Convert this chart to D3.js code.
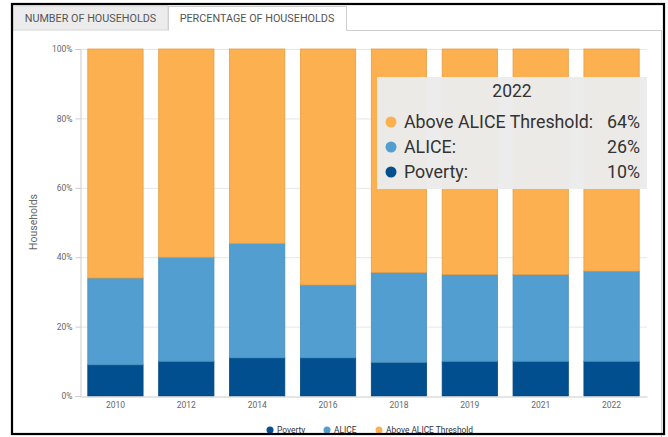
<!DOCTYPE html>
<html><head><meta charset="utf-8">
<script src="https://cdn.jsdelivr.net/npm/d3@7/dist/d3.min.js"></script>
<style>
html,body{margin:0;padding:0;background:#fff;}
svg{display:block;font-family:Roboto,"Noto Sans",sans-serif;}
</style></head><body>
<svg id="c" width="668" height="437"></svg>
<script>
const years = ["2010","2012","2014","2016","2018","2019","2021","2022"];
const poverty = [9, 10, 11, 11, 9.7, 10, 10, 10];
const alice = [25, 30, 33, 21, 25.9, 25, 25, 26];
const above = [66, 60, 56, 68, 64.4, 65, 65, 64];
const seriesNames = ["Poverty", "ALICE", "Above ALICE Threshold"];
const seriesColors = ["#024f8f", "#529ed0", "#fdb050"];
const yTicks = [0, 20, 40, 60, 80, 100];
const tabLabels = ["NUMBER OF HOUSEHOLDS", "PERCENTAGE OF HOUSEHOLDS"];
const tooltipYear = "2022";

const svg = d3.select("#c");

// tabs and panel
svg.append("rect").attr("x",13).attr("y",6).attr("width",155).attr("height",24).attr("fill","#ececec").attr("stroke","#d6d6d6");
svg.append("path").attr("d","M168.5,30.5 V6.5 H346.5 V30.5").attr("fill","#fff").attr("stroke","#cfcfcf");
svg.append("path").attr("d","M346.5,30.5 H661.5 V437").attr("fill","none").attr("stroke","#cfcfcf");
svg.append("text").attr("x",90.5).attr("y",22).attr("text-anchor","middle").attr("font-size",10.8).attr("fill","#555").text(tabLabels[0]);
svg.append("text").attr("x",257).attr("y",22).attr("text-anchor","middle").attr("font-size",10.8).attr("fill","#555").text(tabLabels[1]);

const pL=80, pR=647, pT=49, pB=396;
const x = d3.scaleBand().domain(years).range([pL,pR]).paddingInner(0.22).paddingOuter(0.11);
const y = d3.scaleLinear().domain([0,100]).range([pB,pT]);

// gridlines
svg.append("g").selectAll("line").data(yTicks.filter(d=>d>0)).join("line")
  .attr("x1",pL).attr("x2",pR).attr("y1",d=>y(d)+0.5).attr("y2",d=>y(d)+0.5)
  .attr("stroke","#e6e6e6");

// y axis
const yAxis = d3.axisLeft(y).tickValues(yTicks).tickFormat(d=>d+"%").tickSize(5).tickPadding(3);
const gy = svg.append("g").attr("transform",`translate(${pL+0.5},0)`).call(yAxis);
gy.select(".domain").attr("stroke","#ccc");
gy.selectAll(".tick line").attr("stroke","#ccc");
gy.selectAll(".tick text").attr("font-size",8.5).attr("fill","#666").attr("font-family","Roboto,sans-serif");

svg.append("text").attr("transform","translate(37,222) rotate(-90)").attr("text-anchor","middle")
  .attr("font-size",10.5).attr("fill","#666").text("Households");

// stacked bars
const data = years.map((yr,i)=>({year:yr, Poverty:poverty[i], ALICE:alice[i], "Above ALICE Threshold":above[i]}));
const stack = d3.stack().keys(seriesNames)(data);
svg.append("g").selectAll("g").data(stack).join("g")
  .attr("fill",(d,i)=>seriesColors[i])
  .attr("stroke",(d,i)=>d3.color(seriesColors[i]).darker(0.3))
  .attr("stroke-width",0.8)
  .selectAll("rect").data(d=>d).join("rect")
  .attr("x",d=>x(d.data.year)).attr("width",x.bandwidth())
  .attr("y",d=>y(d[1])).attr("height",d=>y(d[0])-y(d[1]));

// x axis
const xAxis = d3.axisBottom(x).tickSize(0).tickPadding(5);
const gx = svg.append("g").attr("transform",`translate(0,${pB+0.5})`).call(xAxis);
gx.select(".domain").attr("stroke","#ccc").attr("stroke-width",1.2);
gx.selectAll(".tick text").attr("font-size",8.5).attr("fill","#666").attr("font-family","Roboto,sans-serif");

// tooltip
const ti = years.indexOf(tooltipYear);
const tipVals = [above[ti], alice[ti], poverty[ti]];
const tipNames = ["Above ALICE Threshold:", "ALICE:", "Poverty:"];
const tipColors = [seriesColors[2], seriesColors[1], seriesColors[0]];
const tip = svg.append("g");
tip.append("rect").attr("x",377).attr("y",77).attr("width",270).attr("height",112).attr("fill","#ebebeb").attr("fill-opacity",0.97);
tip.append("text").attr("x",512).attr("y",97).attr("text-anchor","middle").attr("font-size",17.5).attr("fill","#333").text(tooltipYear);
tipNames.forEach((n,i)=>{
  const cy = 122 + i*25;
  tip.append("circle").attr("cx",391).attr("cy",cy).attr("r",5.5).attr("fill",tipColors[i]);
  tip.append("text").attr("x",404).attr("y",cy+6).attr("font-size",17.8).attr("fill","#333").text(n);
  tip.append("text").attr("x",640).attr("y",cy+6).attr("text-anchor","end").attr("font-size",17.8).attr("fill","#333").text(Math.round(tipVals[i])+"%");
});

// legend
const legX = [270, 327, 379];
seriesNames.forEach((n,i)=>{
  svg.append("circle").attr("cx",legX[i]).attr("cy",430).attr("r",3.5).attr("fill",seriesColors[i]);
  svg.append("text").attr("x",legX[i]+7).attr("y",433).attr("font-size",8.4).attr("fill","#333").text(n);
});

// outer frame
svg.append("rect").attr("x",12).attr("y",4).attr("width",652).attr("height",430).attr("fill","none").attr("stroke","#000").attr("stroke-width",2.2);
</script>
</body></html>
